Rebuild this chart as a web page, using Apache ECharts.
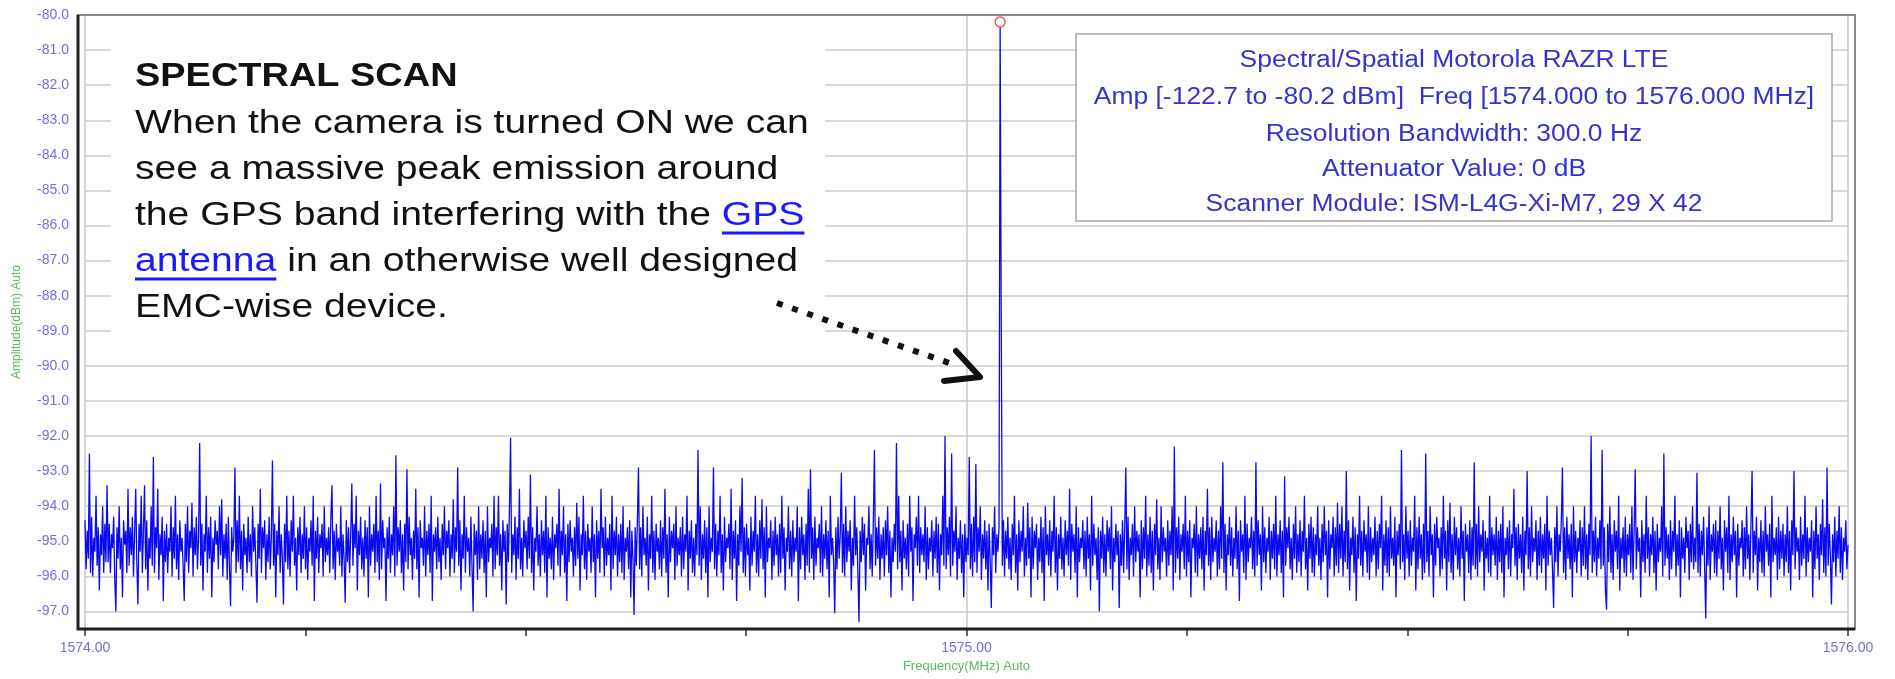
<!DOCTYPE html>
<html>
<head>
<meta charset="utf-8">
<script src="https://cdn.jsdelivr.net/npm/echarts@6.0.0/dist/echarts.min.js"></script>
<style>
html,body{margin:0;padding:0;background:#ffffff;}
#chart{width:1895px;height:679px;}
</style>
</head>
<body>
<div id="chart"></div>
<script>
// ---------- data ----------
const FREQ_START_MHZ = 1574.0;
const FREQ_STOP_MHZ = 1576.0;

// amplitude sweep (dBm), evenly spaced from FREQ_START_MHZ to FREQ_STOP_MHZ
const AMP_DBM = [
  -94.4,-95.8,-94.7,-95.5,-92.5,-95.9,-94.3,-96.0,-94.9,-95.3,-93.7,-95.7,-94.6,-96.4,-94.8,-95.4,-94.0,-95.9,-94.5,-95.6,
  -93.4,-95.6,-94.5,-95.9,-94.8,-95.2,-94.3,-96.1,-97.0,-94.6,-95.5,-94.0,-95.8,-94.9,-96.6,-94.4,-95.1,-94.7,-95.9,-93.5,
  -95.7,-94.6,-95.4,-94.3,-96.0,-94.8,-93.5,-95.6,-96.8,-94.5,-95.3,-93.7,-95.9,-94.7,-93.4,-95.8,-94.4,-96.4,-94.9,-95.5,
  -94.0,-95.7,-92.6,-95.9,-94.6,-95.2,-93.5,-96.1,-94.8,-95.4,-94.3,-96.7,-94.7,-95.6,-94.5,-95.9,-94.9,-95.3,-94.0,-96.0,
  -94.6,-95.5,-93.7,-95.8,-94.8,-96.1,-94.4,-95.3,-94.9,-95.7,-96.7,-94.5,-95.6,-94.0,-95.9,-94.7,-95.2,-93.9,-96.0,-94.6,
  -95.4,-94.3,-95.8,-94.9,-92.2,-95.7,-94.5,-96.4,-94.8,-95.3,-93.7,-95.9,-94.6,-95.5,-94.3,-96.6,-94.9,-95.6,-94.4,-95.1,
  -94.7,-95.8,-94.0,-95.4,-93.8,-96.0,-94.8,-95.5,-94.5,-96.1,-94.3,-95.7,-96.85,-94.6,-95.3,-94.9,-92.9,-95.9,-94.4,-95.6,
  -93.7,-95.8,-94.7,-96.4,-94.5,-95.4,-94.9,-95.9,-94.3,-95.6,-94.8,-96.0,-94.0,-95.3,-94.6,-95.7,-96.75,-94.5,-95.5,-93.5,
  -95.9,-94.6,-95.2,-94.4,-96.1,-94.8,-95.6,-94.3,-95.8,-94.9,-92.7,-95.7,-94.5,-96.6,-94.7,-95.4,-94.0,-95.9,-94.8,-95.5,
  -96.8,-94.5,-95.6,-93.7,-95.8,-94.7,-96.0,-94.4,-95.3,-93.7,-95.7,-94.9,-96.4,-94.6,-95.4,-94.3,-95.9,-94.8,-95.5,-94.0,
  -95.8,-94.6,-96.1,-94.9,-95.3,-94.4,-95.7,-93.7,-96.7,-94.7,-95.5,-94.3,-95.9,-94.8,-95.2,-94.5,-96.0,-94.0,-95.6,-94.9,
  -95.4,-94.6,-95.9,-94.3,-93.4,-95.8,-94.7,-96.1,-94.5,-95.3,-94.9,-95.7,-94.0,-96.0,-94.8,-95.5,-96.75,-94.4,-95.6,-94.6,
  -95.9,-94.8,-93.35,-95.7,-94.5,-95.2,-93.7,-96.4,-94.7,-95.4,-94.3,-95.8,-94.9,-96.0,-94.4,-95.5,-94.6,-96.6,-94.0,-95.7,
  -94.8,-95.3,-94.5,-95.9,-93.7,-95.6,-94.7,-96.1,-93.35,-95.8,-94.4,-95.2,-94.9,-96.7,-94.6,-95.5,-94.3,-95.9,-94.8,-95.4,
  -94.0,-96.0,-92.55,-95.7,-94.6,-95.3,-94.4,-95.9,-94.8,-96.4,-94.5,-95.6,-92.95,-95.8,-94.3,-95.4,-94.9,-96.1,-94.7,-95.5,
  -93.5,-95.8,-94.6,-96.6,-94.4,-95.2,-94.9,-95.7,-94.0,-96.0,-94.7,-95.4,-94.5,-95.9,-93.7,-96.7,-94.8,-95.3,-94.6,-95.8,
  -94.3,-95.6,-94.9,-96.1,-94.5,-95.4,-94.0,-95.8,-94.7,-95.2,-94.4,-96.0,-94.8,-95.5,-93.8,-95.9,-94.6,-95.3,-92.9,-95.7,
  -94.4,-96.4,-94.8,-95.5,-93.7,-95.9,-94.6,-95.3,-94.9,-96.0,-94.3,-95.7,-97.0,-94.5,-95.4,-94.7,-96.1,-94.0,-95.8,-94.8,
  -95.5,-94.4,-95.9,-94.7,-96.6,-94.0,-95.6,-94.9,-95.2,-94.5,-96.0,-93.7,-95.8,-94.6,-95.4,-93.7,-95.7,-94.8,-96.4,-94.4,
  -95.3,-94.7,-96.8,-94.5,-95.6,-94.0,-92.05,-95.9,-94.8,-95.4,-94.3,-96.1,-94.6,-95.5,-93.5,-95.8,-94.9,-96.0,-94.4,-95.2,
  -94.7,-95.8,-94.3,-95.5,-93.1,-95.9,-94.6,-96.4,-94.9,-95.3,-94.0,-95.7,-94.8,-96.0,-94.4,-95.4,-94.7,-95.9,-93.7,-96.6,
  -94.6,-95.5,-94.9,-95.8,-94.3,-96.1,-94.8,-95.2,-94.5,-95.7,-93.5,-96.0,-94.7,-95.4,-94.0,-95.9,-94.8,-96.7,-94.5,-95.6,
  -94.4,-95.3,-94.9,-96.0,-94.6,-95.7,-93.9,-95.5,-94.3,-96.4,-94.8,-95.4,-93.7,-95.8,-94.7,-96.1,-94.5,-95.3,-94.9,-95.9,
  -94.0,-95.6,-94.8,-96.6,-94.4,-95.5,-94.7,-95.9,-93.5,-95.2,-94.6,-96.0,-94.3,-95.7,-94.9,-95.4,-94.5,-96.4,-93.7,-95.8,
  -94.7,-95.4,-94.3,-96.0,-94.8,-95.6,-94.5,-95.9,-94.0,-96.1,-94.9,-95.3,-94.6,-95.8,-94.4,-96.6,-94.7,-95.5,-97.1,-94.6,
  -95.7,-94.4,-92.9,-95.8,-94.6,-96.0,-94.0,-95.4,-94.9,-95.7,-94.3,-96.4,-94.8,-95.5,-93.7,-95.9,-94.7,-96.1,-94.5,-95.3,
  -94.9,-95.8,-94.4,-96.0,-94.6,-95.5,-93.5,-95.9,-94.8,-96.6,-94.3,-95.6,-94.7,-95.2,-94.5,-96.1,-94.0,-95.7,-94.9,-95.4,
  -94.6,-96.0,-94.3,-95.8,-94.8,-95.3,-93.7,-96.4,-94.7,-95.5,-94.4,-95.9,-94.9,-96.0,-94.5,-95.4,-92.4,-95.7,-94.0,-96.1,
  -94.8,-95.5,-94.4,-95.9,-94.6,-96.6,-94.0,-95.6,-94.9,-95.3,-92.9,-95.8,-94.5,-96.0,-94.7,-95.4,-93.7,-95.9,-94.8,-96.4,
  -94.3,-95.6,-94.9,-95.2,-94.5,-95.8,-93.5,-96.1,-94.7,-95.5,-94.4,-96.7,-94.8,-95.7,-94.0,-95.3,-93.2,-95.9,-94.6,-96.0,
  -94.5,-95.4,-94.9,-96.4,-94.3,-95.7,-94.7,-95.3,-93.7,-95.9,-94.8,-96.0,-94.4,-95.5,-93.8,-95.8,-94.6,-96.6,-94.0,-95.6,
  -94.9,-95.2,-94.4,-96.1,-94.7,-95.7,-94.3,-95.4,-94.8,-96.0,-94.5,-95.9,-93.7,-95.5,-94.6,-96.4,-94.9,-95.3,-94.0,-95.8,
  -94.7,-96.0,-94.4,-95.6,-94.9,-95.3,-94.0,-96.7,-94.6,-95.8,-94.3,-95.4,-94.8,-96.1,-94.5,-95.7,-93.5,-95.9,-92.95,-95.5,
  -94.6,-96.1,-94.3,-95.7,-94.9,-95.2,-94.5,-95.9,-94.0,-96.0,-94.8,-95.5,-94.4,-95.8,-94.7,-96.6,-93.7,-95.4,-94.9,-95.6,
  -97.05,-94.6,-95.8,-94.3,-95.5,-94.8,-93.05,-95.9,-94.5,-96.0,-94.0,-95.6,-94.7,-95.3,-94.4,-96.4,-94.9,-95.7,-93.7,-95.4,
  -94.6,-95.9,-97.3,-94.7,-95.6,-94.3,-95.4,-94.5,-96.4,-94.9,-95.1,-94.0,-95.8,-94.8,-96.0,-94.4,-92.4,-95.7,-94.6,-95.5,
  -94.3,-96.1,-94.8,-95.5,-94.6,-96.0,-94.4,-95.4,-94.0,-95.9,-94.7,-96.6,-94.9,-95.6,-94.5,-95.3,-92.2,-95.8,-93.7,-95.6,
  -94.7,-96.4,-94.4,-95.5,-94.9,-95.8,-94.5,-96.0,-93.7,-95.3,-94.6,-96.7,-94.8,-95.2,-94.3,-95.7,-93.7,-95.9,-94.6,-95.4,
  -94.8,-95.6,-94.0,-96.1,-94.6,-95.8,-94.9,-95.3,-94.4,-96.0,-94.7,-95.5,-94.3,-95.9,-94.5,-96.4,-94.8,-95.4,-93.7,-95.7,
  -92.0,-95.8,-94.6,-95.4,-94.3,-96.0,-92.5,-95.7,-94.7,-95.3,-94.0,-96.1,-94.9,-95.5,-94.4,-95.9,-94.8,-96.6,-94.5,-95.6,
  -94.9,-95.4,-92.6,-95.8,-94.5,-96.0,-94.3,-95.6,-92.8,-95.9,-94.6,-95.3,-94.0,-96.1,-94.8,-95.5,-94.4,-95.8,-94.7,-96.4,
  -94.5,-95.6,-96.9,-94.6,-95.4,-94.0,-95.9,-94.8,-95.3,-94.6,-80.2,-88.7,-95.7,-94.4,-96.0,-94.7,-95.5,-94.3,-95.8,-94.9,
  -96.1,-94.5,-95.4,-93.7,-95.9,-94.8,-96.4,-94.4,-95.6,-94.7,-95.3,-94.0,-96.0,-94.9,-95.7,-93.9,-95.5,-94.6,-96.6,-94.3,
  -95.8,-94.7,-95.2,-94.5,-96.1,-94.9,-95.6,-94.3,-95.9,-94.6,-96.7,-94.0,-95.4,-94.8,-95.7,-94.4,-96.0,-94.7,-95.3,-93.7,
  -95.9,-94.6,-96.4,-94.8,-95.5,-94.3,-95.8,-94.9,-96.0,-94.4,-95.4,-94.7,-95.7,-93.5,-96.1,-94.5,-95.3,-94.8,-95.9,-94.0,
  -96.6,-94.6,-95.6,-94.9,-95.2,-94.4,-95.8,-94.7,-96.0,-94.3,-95.5,-94.8,-96.4,-93.7,-95.7,-94.5,-95.4,-94.9,-96.1,-94.6,
  -97.0,-94.7,-95.5,-94.3,-95.9,-94.8,-96.0,-94.4,-95.3,-94.6,-95.8,-94.0,-96.4,-94.9,-95.6,-94.5,-95.4,-94.7,-96.9,-94.8,
  -95.7,-94.4,-95.9,-94.6,-92.9,-95.8,-94.3,-96.1,-94.9,-95.4,-94.5,-96.0,-94.0,-95.6,-94.7,-95.3,-94.8,-96.6,-94.4,-95.8,
  -94.6,-95.5,-93.7,-96.0,-94.8,-95.7,-94.3,-95.9,-94.7,-96.4,-94.5,-95.4,-93.8,-95.8,-94.9,-96.1,-94.0,-95.6,-94.6,-95.3,
  -94.9,-96.0,-94.4,-95.7,-94.7,-95.4,-94.0,-96.4,-92.3,-95.9,-94.6,-95.5,-94.3,-96.1,-94.8,-95.3,-94.5,-95.8,-93.7,-96.0,
  -94.7,-95.6,-94.4,-96.6,-94.9,-95.2,-94.5,-95.9,-94.0,-96.0,-94.8,-95.5,-94.6,-95.8,-94.3,-96.4,-94.7,-95.4,-93.5,-95.7,
  -94.6,-96.1,-94.3,-95.6,-94.9,-95.3,-94.4,-96.0,-94.7,-95.8,-94.0,-95.5,-92.75,-95.9,-94.5,-96.4,-94.8,-95.4,-94.3,-95.7,
  -94.6,-96.0,-94.9,-95.5,-94.0,-95.8,-94.7,-96.7,-94.4,-95.3,-94.8,-95.9,-93.7,-96.1,-94.5,-95.6,-94.9,-95.2,-94.3,-95.8,
  -94.7,-96.0,-92.75,-95.7,-94.4,-95.4,-94.8,-96.4,-94.0,-95.6,-94.6,-95.9,-94.9,-95.3,-94.3,-96.1,-94.7,-95.5,-94.5,-95.8,
  -93.7,-96.0,-94.8,-95.4,-94.4,-95.9,-94.7,-96.6,-93.15,-95.7,-94.6,-95.2,-94.3,-95.8,-94.9,-96.1,-94.5,-95.5,-94.0,-95.9,
  -94.8,-95.6,-94.4,-96.0,-94.7,-95.3,-93.7,-95.8,-94.9,-96.4,-94.5,-95.5,-94.3,-95.9,-94.6,-96.0,-94.8,-95.4,-94.0,-95.7,
  -94.9,-96.1,-94.5,-95.6,-94.0,-95.4,-94.7,-96.6,-94.4,-95.8,-94.8,-95.2,-94.3,-96.0,-94.6,-95.7,-93.9,-95.9,-94.5,-95.5,
  -94.0,-96.0,-94.7,-95.6,-93.0,-95.8,-94.4,-96.4,-94.9,-95.4,-94.3,-95.9,-94.6,-96.7,-94.8,-95.5,-93.7,-95.7,-94.7,-96.0,
  -94.4,-95.3,-94.8,-95.9,-94.0,-96.1,-94.6,-95.6,-94.9,-95.4,-94.3,-96.0,-94.7,-95.8,-94.5,-95.2,-93.7,-96.4,-94.8,-95.7,
  -94.4,-95.9,-94.6,-96.0,-94.0,-95.5,-94.9,-95.7,-94.3,-96.6,-94.7,-95.4,-94.5,-95.8,-92.4,-95.6,-94.8,-96.1,-94.0,-95.5,
  -94.7,-96.0,-94.4,-95.7,-94.9,-95.3,-93.7,-96.4,-94.6,-95.8,-94.3,-95.5,-94.8,-96.1,-94.5,-95.9,-92.5,-95.6,-94.7,-96.0,
  -94.0,-95.4,-94.8,-96.6,-94.5,-95.7,-94.3,-95.2,-94.9,-96.0,-94.6,-95.8,-93.7,-95.5,-94.7,-96.4,-94.4,-95.6,-93.9,-95.9,
  -94.8,-96.1,-94.3,-95.4,-94.6,-95.8,-94.9,-96.0,-94.0,-95.5,-94.7,-96.7,-94.5,-95.3,-94.8,-95.9,-94.4,-96.1,-94.6,-95.7,
  -92.75,-95.8,-94.5,-96.0,-94.0,-95.6,-94.8,-95.3,-94.4,-96.4,-94.7,-95.5,-94.9,-95.9,-93.7,-96.0,-94.6,-95.4,-94.8,-95.7,
  -94.3,-96.1,-94.7,-95.6,-94.5,-95.9,-94.0,-96.6,-94.9,-95.4,-94.6,-95.8,-94.4,-96.0,-94.8,-95.2,-93.5,-95.7,-94.6,-96.1,
  -94.5,-95.5,-94.8,-95.9,-94.3,-96.4,-94.7,-95.4,-93.0,-95.8,-94.6,-96.0,-94.0,-95.6,-94.9,-95.3,-94.4,-96.1,-94.7,-95.7,
  -94.3,-95.9,-94.8,-95.5,-94.5,-96.4,-93.7,-95.7,-94.7,-95.4,-94.9,-95.8,-96.9,-94.6,-95.6,-94.0,-96.0,-94.8,-95.3,-94.4,
  -92.9,-95.9,-94.6,-96.1,-94.3,-95.5,-94.8,-95.8,-94.5,-96.6,-94.0,-95.6,-94.7,-95.9,-94.9,-95.3,-94.4,-96.0,-94.6,-95.7,
  -94.0,-95.8,-94.8,-96.1,-94.5,-95.4,-92.0,-95.9,-94.7,-95.6,-94.3,-96.0,-94.9,-95.5,-94.4,-95.8,-92.4,-95.7,-94.6,-96.4,
  -96.95,-94.5,-95.6,-94.0,-95.9,-94.8,-96.1,-94.4,-95.3,-94.7,-95.8,-93.7,-96.4,-94.9,-95.5,-94.6,-95.9,-94.3,-96.0,-94.8,
  -95.4,-94.5,-95.9,-94.0,-96.1,-94.7,-92.95,-95.8,-94.6,-95.3,-94.9,-96.6,-94.4,-95.6,-94.8,-95.9,-93.7,-95.5,-94.6,-96.0,
  -94.8,-95.4,-94.3,-95.9,-94.7,-96.4,-94.5,-95.6,-94.9,-95.3,-94.0,-96.0,-92.5,-95.7,-94.6,-95.5,-94.8,-96.1,-94.4,-95.8,
  -94.7,-95.3,-93.7,-96.0,-94.8,-95.7,-94.4,-96.6,-94.6,-95.5,-94.9,-95.9,-94.3,-95.2,-94.7,-96.1,-94.5,-95.6,-94.0,-95.8,
  -94.9,-95.6,-93.05,-95.9,-94.5,-96.0,-94.7,-95.4,-94.3,-95.8,-97.2,-94.6,-95.7,-94.0,-96.1,-94.8,-95.3,-94.5,-95.9,-94.4,
  -96.0,-94.7,-95.5,-94.0,-95.8,-94.9,-96.4,-94.4,-95.3,-94.6,-95.9,-93.7,-96.1,-94.8,-95.6,-94.3,-95.4,-94.7,-96.6,-94.5,
  -95.7,-94.9,-95.2,-94.4,-96.0,-94.6,-95.8,-94.0,-95.5,-94.8,-96.1,-94.5,-93.0,-95.9,-94.7,-95.4,-94.3,-96.4,-94.9,-95.6,
  -94.4,-95.9,-94.7,-96.0,-94.0,-95.3,-94.8,-95.7,-94.5,-96.6,-93.7,-95.6,-94.9,-95.4,-94.6,-96.1,-94.3,-95.8,-94.7,-95.5,
  -94.5,-96.0,-94.8,-95.6,-94.0,-95.9,-94.7,-96.4,-94.4,-95.4,-93.0,-95.8,-94.6,-95.3,-94.9,-96.1,-94.3,-95.7,-94.8,-95.5,
  -93.7,-96.0,-94.6,-95.6,-94.9,-95.3,-94.4,-96.6,-94.7,-95.8,-94.0,-95.5,-94.8,-96.1,-94.5,-95.4,-93.8,-95.9,-94.6,-96.0,
  -92.9,-95.7,-94.5,-95.4,-96.8,-94.8,-95.6,-94.3,-96.0,-94.7,-95.5,-94.0,-95.9,-94.6,-96.1,-94.9,-95.3,-94.4,-95.8,-95.1
];

// axis ranges / ticks
const Y_MIN = -97.5;
const Y_MAX = -80.0;
const Y_STEP = 0.5;          // labels/grid shown on whole dB values
const X_TICK_STEP = 0.25;    // minor ticks; labels on whole MHz
const X_NAME = 'Frequency(MHz) Auto';
const Y_NAME = 'Amplitude(dBm) Auto';

// texts
const INFO_LINES = [
  'Spectral/Spatial Motorola RAZR LTE',
  'Amp [-122.7 to -80.2 dBm]  Freq [1574.000 to 1576.000 MHz]',
  'Resolution Bandwidth: 300.0 Hz',
  'Attenuator Value: 0 dB',
  'Scanner Module: ISM-L4G-Xi-M7, 29 X 42'
];
const NOTE_TITLE = 'SPECTRAL SCAN';
const NOTE_LINES = [
  [{ text: 'When the camera is turned ON we can' }],
  [{ text: 'see a massive peak emission around' }],
  [{ text: 'the GPS band interfering with the ' }, { text: 'GPS', link: true }],
  [{ text: 'antenna', link: true }, { text: ' in an otherwise well designed' }],
  [{ text: 'EMC-wise device.' }]
];

// ---------- build ----------
const freqStep = (FREQ_STOP_MHZ - FREQ_START_MHZ) / (AMP_DBM.length - 1);
const seriesData = AMP_DBM.map((v, i) => [FREQ_START_MHZ + i * freqStep, v]);

const FAMILY = '"Liberation Sans", Arial, Helvetica, sans-serif';
const measureCtx = document.createElement('canvas').getContext('2d');
function textWidth(t, font) { measureCtx.font = font; return measureCtx.measureText(t).width; }

const TXT_SX = 1.15;
const TITLE_FONT = 'bold 33px ' + FAMILY;
const BODY_FONT = '34px ' + FAMILY;
const LINK_COLOR = '#1a1aff';

const noteChildren = [{
  type: 'text', x: 0, y: 76.5, z: 20,
  style: { text: NOTE_TITLE, font: TITLE_FONT, fill: '#111111', verticalAlign: 'middle', align: 'left' }
}];
NOTE_LINES.forEach((pieces, li) => {
  const y = 123.5 + li * 46;
  let x = 0;
  pieces.forEach(p => {
    const w = textWidth(p.text, BODY_FONT);
    noteChildren.push({
      type: 'text', x: x, y: y, z: 20,
      style: { text: p.text, font: BODY_FONT, fill: p.link ? LINK_COLOR : '#111111', verticalAlign: 'middle', align: 'left' }
    });
    if (p.link) {
      noteChildren.push({ type: 'rect', z: 20, shape: { x: x, y: y + 16, width: w, height: 3 }, style: { fill: LINK_COLOR } });
    }
    x += w;
  });
});

const INFO_FONT = '23px ' + FAMILY;
const infoChildren = INFO_LINES.map((t, i) => ({
  type: 'text', x: 0, y: [61, 98, 135, 170, 205][i], z: 20,
  style: { text: t, font: INFO_FONT, fill: '#3434cc', align: 'center', verticalAlign: 'middle' }
}));

const chart = echarts.init(document.getElementById('chart'), null, { renderer: 'canvas' });
chart.setOption({
  animation: false,
  backgroundColor: '#ffffff',
  grid: { left: 85, right: 47, top: 15, bottom: 50, containLabel: false, outerBoundsMode: 'none' },
  xAxis: {
    type: 'value', min: FREQ_START_MHZ, max: FREQ_STOP_MHZ, interval: X_TICK_STEP,
    axisLine: { show: false },
    axisTick: { show: true, length: 7, lineStyle: { color: '#333333', width: 1.5 } },
    axisLabel: {
      formatter: v => Number.isInteger(v) ? v.toFixed(2) : '',
      color: '#6f6fe0', fontSize: 14, fontFamily: 'Liberation Sans', margin: 12,
      showMinLabel: true, showMaxLabel: true, hideOverlap: false
    },
    splitLine: { show: true, lineStyle: { color: ['#c8c8c8', 'rgba(0,0,0,0)', 'rgba(0,0,0,0)', 'rgba(0,0,0,0)'], width: 1.5 } },
    name: X_NAME, nameLocation: 'middle', nameGap: 30,
    nameTextStyle: { color: '#5cb85c', fontSize: 13, fontFamily: 'Liberation Sans' }
  },
  yAxis: {
    type: 'value', min: Y_MIN, max: Y_MAX, interval: Y_STEP,
    axisLine: { show: false },
    axisTick: { show: false },
    axisLabel: {
      formatter: v => (Math.round(v * 2) % 2 === 0) ? v.toFixed(1) : '',
      color: '#6f6fe0', fontSize: 14, fontFamily: 'Liberation Sans', margin: 16,
      showMinLabel: true, showMaxLabel: true, hideOverlap: false
    },
    splitLine: { show: true, lineStyle: { color: ['rgba(0,0,0,0)', '#cccccc'], width: 1.5 } },
    name: Y_NAME, nameLocation: 'middle', nameGap: 62, nameRotate: 90,
    nameTextStyle: { color: '#5cb85c', fontSize: 12, fontFamily: 'Liberation Sans' }
  },
  series: [{
    type: 'line',
    data: seriesData,
    symbol: 'none',
    showSymbol: false,
    lineStyle: { color: '#0a0af2', width: 1.3 },
    emphasis: { disabled: true },
    z: 3,
    markPoint: {
      symbol: 'circle', symbolSize: 10,
      data: [{ type: 'max' }],
      itemStyle: { color: '#ffffff', borderColor: '#e05a5a', borderWidth: 1.5 },
      label: { show: false },
      animation: false
    }
  }],
  graphic: {
    elements: [
      // plot frame
      { type: 'rect', z: 30, shape: { x: 78, y: 15, width: 1777, height: 614 }, style: { fill: 'none', stroke: '#8a8a8a', lineWidth: 2 } },
      { type: 'polyline', z: 31, shape: { points: [[78, 15], [78, 629], [1855, 629]] }, style: { fill: 'none', stroke: '#1e1e1e', lineWidth: 3 } },
      // annotation background
      { type: 'rect', z: 15, shape: { x: 111, y: 22, width: 714, height: 325 }, style: { fill: '#ffffff' } },
      { type: 'group', x: 135, y: 0, scaleX: TXT_SX, z: 20, children: noteChildren },
      // info box
      { type: 'rect', z: 15, shape: { x: 1076, y: 34, width: 756, height: 187 }, style: { fill: '#ffffff', stroke: '#a8a8a8', lineWidth: 1.5 } },
      { type: 'group', x: 1454, y: 0, scaleX: TXT_SX, z: 20, children: infoChildren },
      // dotted arrow
      { type: 'line', z: 20, shape: { x1: 777, y1: 303, x2: 952, y2: 364 }, style: { stroke: '#111111', lineWidth: 6, lineDash: [6, 10] } },
      { type: 'polyline', z: 20, shape: { points: [[956, 351], [980, 377], [944, 381]] }, style: { fill: 'none', stroke: '#111111', lineWidth: 6, lineCap: 'round', lineJoin: 'round' } }
    ]
  }
});
</script>
</body>
</html>
